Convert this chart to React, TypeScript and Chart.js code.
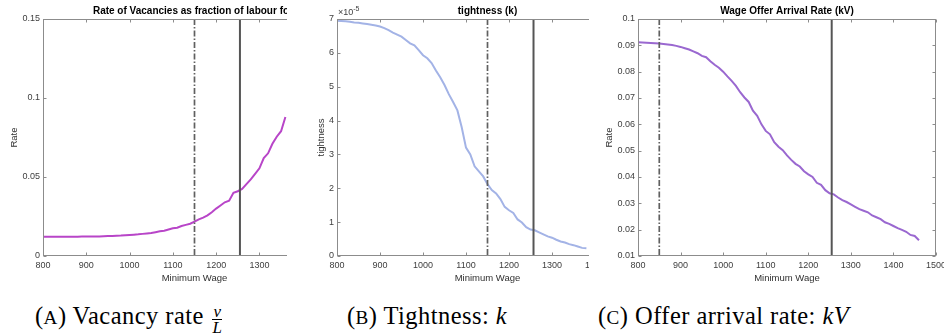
import React, { useEffect, useRef } from 'react';
import { Chart, registerables } from 'chart.js';

Chart.register(...registerables);

// ---------- data ----------
const wageA = [800, 810, 820, 830, 840, 850, 860, 870, 880, 890, 900, 910, 920, 930, 940, 950, 960, 970, 980, 990, 1000, 1010, 1020, 1030, 1040, 1050, 1060, 1070, 1080, 1090, 1100, 1110, 1120, 1130, 1140, 1150, 1160, 1170, 1180, 1190, 1200, 1210, 1220, 1230, 1240, 1250, 1260, 1270, 1280, 1290, 1300, 1310, 1320, 1330, 1340, 1350, 1360];
const vacancyRate = [0.0122, 0.0122, 0.0122, 0.0122, 0.0122, 0.0122, 0.0122, 0.0122, 0.0122, 0.0123, 0.0123, 0.0123, 0.0124, 0.0124, 0.0125, 0.0126, 0.0127, 0.0128, 0.0129, 0.0131, 0.0133, 0.0135, 0.0137, 0.014, 0.0143, 0.0146, 0.0151, 0.0156, 0.016, 0.0168, 0.0175, 0.0179, 0.019, 0.0197, 0.0204, 0.0217, 0.0232, 0.0243, 0.0257, 0.0277, 0.0300, 0.032, 0.034, 0.035, 0.040, 0.041, 0.0425, 0.0455, 0.0485, 0.052, 0.0555, 0.062, 0.065, 0.071, 0.0755, 0.079, 0.088];

const wageB = [800, 810, 820, 830, 840, 850, 860, 870, 880, 890, 900, 910, 920, 930, 940, 950, 960, 970, 980, 990, 1000, 1010, 1020, 1030, 1040, 1050, 1060, 1070, 1080, 1090, 1100, 1110, 1120, 1130, 1140, 1150, 1160, 1170, 1180, 1190, 1200, 1210, 1220, 1230, 1240, 1250, 1260, 1270, 1280, 1290, 1300, 1310, 1320, 1330, 1340, 1350, 1360, 1370, 1380];
// tightness in units of 1e-5
const tightnessE5 = [6.95, 6.94, 6.93, 6.92, 6.9, 6.89, 6.87, 6.85, 6.83, 6.81, 6.78, 6.73, 6.67, 6.6, 6.54, 6.48, 6.38, 6.28, 6.22, 6.08, 5.93, 5.84, 5.7, 5.48, 5.28, 5.05, 4.78, 4.55, 4.3, 3.8, 3.2, 3.0, 2.65, 2.5, 2.35, 2.12, 1.95, 1.85, 1.68, 1.45, 1.35, 1.27, 1.08, 0.99, 0.85, 0.78, 0.76, 0.7, 0.64, 0.58, 0.54, 0.48, 0.43, 0.4, 0.35, 0.32, 0.28, 0.24, 0.23];

const wageC = [800, 810, 820, 830, 840, 850, 860, 870, 880, 890, 900, 910, 920, 930, 940, 950, 960, 970, 980, 990, 1000, 1010, 1020, 1030, 1040, 1050, 1060, 1070, 1080, 1090, 1100, 1110, 1120, 1130, 1140, 1150, 1160, 1170, 1180, 1190, 1200, 1210, 1220, 1230, 1240, 1250, 1260, 1270, 1280, 1290, 1300, 1310, 1320, 1330, 1340, 1350, 1360, 1370, 1380, 1390, 1400, 1410, 1420, 1430, 1440, 1450, 1460];
const offerRate = [0.0912, 0.0911, 0.091, 0.0909, 0.0908, 0.0907, 0.0905, 0.0903, 0.0901, 0.0898, 0.0894, 0.0889, 0.0884, 0.0877, 0.087, 0.086, 0.0855, 0.084, 0.0826, 0.0815, 0.08, 0.0782, 0.0765, 0.0746, 0.0722, 0.0702, 0.0685, 0.0652, 0.0632, 0.06, 0.0575, 0.0562, 0.0532, 0.0515, 0.0502, 0.0482, 0.0465, 0.045, 0.044, 0.0422, 0.041, 0.04, 0.0378, 0.037, 0.035, 0.0338, 0.0334, 0.0322, 0.0312, 0.0305, 0.0296, 0.0287, 0.0278, 0.0272, 0.0266, 0.0254, 0.0247, 0.024, 0.0228, 0.0222, 0.0214, 0.0206, 0.0199, 0.0192, 0.018, 0.0176, 0.016];

const xTicks = [800, 900, 1000, 1100, 1200, 1300, 1400, 1500];
const yTicksA = [0, 0.05, 0.1, 0.15];
const yTicksB = [0, 1, 2, 3, 4, 5, 6, 7];
const yTicksC = [0.01, 0.02, 0.03, 0.04, 0.05, 0.06, 0.07, 0.08, 0.09, 0.1];

const refLinesA = { dash: 1150, solid: 1255 };
const refLinesB = { dash: 1150, solid: 1257 };
const refLinesC = { dash: 850, solid: 1255 };

const FONT = '"Liberation Sans", Arial, Helvetica, sans-serif';

const framePlugin = {
  id: 'frame',
  afterDatasetsDraw(chart: any, _args: any, opts: any) {
    const { ctx, chartArea: a, scales } = chart;
    const x = scales.x;
    const y = scales.y;
    ctx.save();
    // reference lines
    ctx.lineWidth = 1.7;
    ctx.strokeStyle = '#606060';
    ctx.setLineDash([6, 2, 1.5, 2]);
    const xd = x.getPixelForValue(opts.dash);
    ctx.beginPath();
    ctx.moveTo(xd, a.top);
    ctx.lineTo(xd, a.bottom);
    ctx.stroke();
    ctx.setLineDash([]);
    ctx.lineWidth = 2;
    ctx.strokeStyle = '#555555';
    const xs = x.getPixelForValue(opts.solid);
    ctx.beginPath();
    ctx.moveTo(xs, a.top);
    ctx.lineTo(xs, a.bottom);
    ctx.stroke();

    // box
    ctx.lineWidth = 1;
    ctx.strokeStyle = '#8c8c8c';
    const L = Math.round(a.left) + 0.5;
    const R = Math.round(a.right) - 0.5;
    const T = Math.round(a.top) + 0.5;
    const B = Math.round(a.bottom) - 0.5;
    ctx.strokeRect(L, T, R - L, B - T);
    // inward ticks
    ctx.beginPath();
    x.ticks.forEach((t: any) => {
      const px = Math.round(x.getPixelForValue(t.value)) + 0.5;
      ctx.moveTo(px, B);
      ctx.lineTo(px, B - 3);
      ctx.moveTo(px, T);
      ctx.lineTo(px, T + 3);
    });
    y.ticks.forEach((t: any) => {
      const py = Math.round(y.getPixelForValue(t.value)) + 0.5;
      ctx.moveTo(L, py);
      ctx.lineTo(L + 3, py);
      ctx.moveTo(R, py);
      ctx.lineTo(R - 3, py);
    });
    ctx.stroke();

    // title
    ctx.fillStyle = '#000';
    ctx.font = 'bold 10px ' + FONT;
    ctx.textAlign = 'center';
    ctx.textBaseline = 'middle';
    ctx.fillText(opts.title, (a.left + a.right) / 2 + (opts.titleShift || 0), 11.5);

    if (opts.exponent) {
      ctx.fillStyle = '#404040';
      ctx.textAlign = 'left';
      ctx.font = '9px ' + FONT;
      ctx.fillText('\u00d710', a.left + 1, 13);
      const w = ctx.measureText('\u00d710').width;
      ctx.font = '7px ' + FONT;
      ctx.fillText('-5', a.left + 1 + w, 9);
    }
    ctx.restore();
  },
};

type PanelProps = {
  left: number;
  clipWidth: number;
  yWidth: number;
  padRight: number;
  yTitlePad: number;
  xs: number[];
  ys: number[];
  color: string;
  yMin: number;
  yMax: number;
  yTicks: number[];
  yTitle: string;
  title: string;
  titleShift?: number;
  refs: { dash: number; solid: number };
  exponent?: boolean;
};

const CW = 360;
const CH = 290;

function fmt(v: number) {
  return String(parseFloat(v.toFixed(4)));
}

function Panel(p: PanelProps) {
  const ref = useRef<HTMLCanvasElement | null>(null);
  useEffect(() => {
    if (!ref.current) return;
    const chart = new Chart(ref.current, {
      type: 'line',
      data: {
        datasets: [
          {
            data: p.xs.map((x, i) => ({ x, y: p.ys[i] })),
            borderColor: p.color,
            borderWidth: 2,
            pointRadius: 0,
            fill: false,
            tension: 0,
          },
        ],
      },
      options: {
        animation: false,
        responsive: false,
        maintainAspectRatio: false,
        layout: { padding: { top: 19, right: p.padRight, left: 0, bottom: 0 } },
        plugins: {
          legend: { display: false },
          tooltip: { enabled: false },
          frame: {
            title: p.title,
            titleShift: p.titleShift || 0,
            dash: p.refs.dash,
            solid: p.refs.solid,
            exponent: !!p.exponent,
          },
        } as any,
        scales: {
          x: {
            type: 'linear',
            min: 800,
            max: 1500,
            afterBuildTicks: (s: any) => {
              s.ticks = xTicks.map((v) => ({ value: v }));
            },
            afterFit: (s: any) => {
              s.height = 34;
            },
            grid: { display: false, drawTicks: false, tickLength: 0 },
            border: { display: false },
            ticks: {
              padding: 4,
              color: '#404040',
              font: { family: FONT, size: 9 },
              maxRotation: 0,
              autoSkip: false,
              callback: (v: any) => fmt(Number(v)),
            },
            title: {
              display: true,
              text: 'Minimum Wage',
              color: '#303030',
              font: { family: FONT, size: 9.5 },
              padding: { top: 0, bottom: 6 },
            },
          },
          y: {
            type: 'linear',
            min: p.yMin,
            max: p.yMax,
            afterBuildTicks: (s: any) => {
              s.ticks = p.yTicks.map((v) => ({ value: v }));
            },
            afterFit: (s: any) => {
              s.width = p.yWidth;
            },
            grid: { display: false, drawTicks: false, tickLength: 0 },
            border: { display: false },
            ticks: {
              padding: 3,
              color: '#404040',
              font: { family: FONT, size: 9 },
              autoSkip: false,
              callback: (v: any) => fmt(Number(v)),
            },
            title: {
              display: true,
              text: p.yTitle,
              color: '#303030',
              font: { family: FONT, size: 9.5 },
              padding: { top: p.yTitlePad, bottom: 0 },
            },
          },
        },
      },
      plugins: [framePlugin as any],
    });
    return () => chart.destroy();
  }, []);
  return (
    <div
      style={{
        position: 'absolute',
        left: p.left,
        top: 0,
        width: p.clipWidth,
        height: CH,
        overflow: 'hidden',
      }}
    >
      <canvas ref={ref} width={CW} height={CH} style={{ width: CW, height: CH, display: 'block' }} />
    </div>
  );
}

const capStyle: React.CSSProperties = {
  position: 'absolute',
  top: 304,
  fontFamily: '"Liberation Serif", "Times New Roman", serif',
  fontSize: 24.5,
  lineHeight: '24px',
  letterSpacing: '0.45px',
  whiteSpace: 'nowrap',
  color: '#000',
};

const sc: React.CSSProperties = { fontSize: '0.78em' };

export default function App() {
  return (
    <div style={{ position: 'absolute', left: 0, top: 0, width: 944, height: 333, background: '#fff', overflow: 'hidden' }}>
      <Panel
        left={0}
        clipWidth={287}
        yWidth={43}
        padRight={CW - 346}
        yTitlePad={8.5}
        xs={wageA}
        ys={vacancyRate}
        color="#b845c8"
        yMin={0}
        yMax={0.15}
        yTicks={yTicksA}
        yTitle="Rate"
        title="Rate of Vacancies as fraction of labour force"
        titleShift={4}
        refs={refLinesA}
      />
      <Panel
        left={300}
        clipWidth={289}
        yWidth={37}
        padRight={CW - 338}
        yTitlePad={15.5}
        xs={wageB}
        ys={tightnessE5}
        color="#a3b3e6"
        yMin={0}
        yMax={7}
        yTicks={yTicksB}
        yTitle="tightness"
        title="tightness (k)"
        refs={refLinesB}
        exponent
      />
      <Panel
        left={596}
        clipWidth={348}
        yWidth={42}
        padRight={CW - 340}
        yTitlePad={8}
        xs={wageC}
        ys={offerRate}
        color="#9a68d0"
        yMin={0.01}
        yMax={0.1}
        yTicks={yTicksC}
        yTitle="Rate"
        title="Wage Offer Arrival Rate (kV)"
        refs={refLinesC}
      />
      <div style={{ ...capStyle, left: 35 }}>
        (<span style={sc}>A</span>) Vacancy rate{' '}
        <span
          style={{
            display: 'inline-flex',
            flexDirection: 'column',
            alignItems: 'center',
            verticalAlign: 'middle',
            fontSize: 17,
            lineHeight: '12px',
            letterSpacing: 0,
            fontStyle: 'italic',
            marginLeft: 2,
            position: 'relative',
            top: 2,
          }}
        >
          <span style={{ borderBottom: '1px solid #000', padding: '0 1px 1px' }}>v</span>
          <span style={{ paddingTop: 2 }}>L</span>
        </span>
      </div>
      <div style={{ ...capStyle, left: 347 }}>
        (<span style={sc}>B</span>) Tightness: <i>k</i>
      </div>
      <div style={{ ...capStyle, left: 598 }}>
        (<span style={sc}>C</span>) Offer arrival rate: <i>kV</i>
      </div>
    </div>
  );
}
